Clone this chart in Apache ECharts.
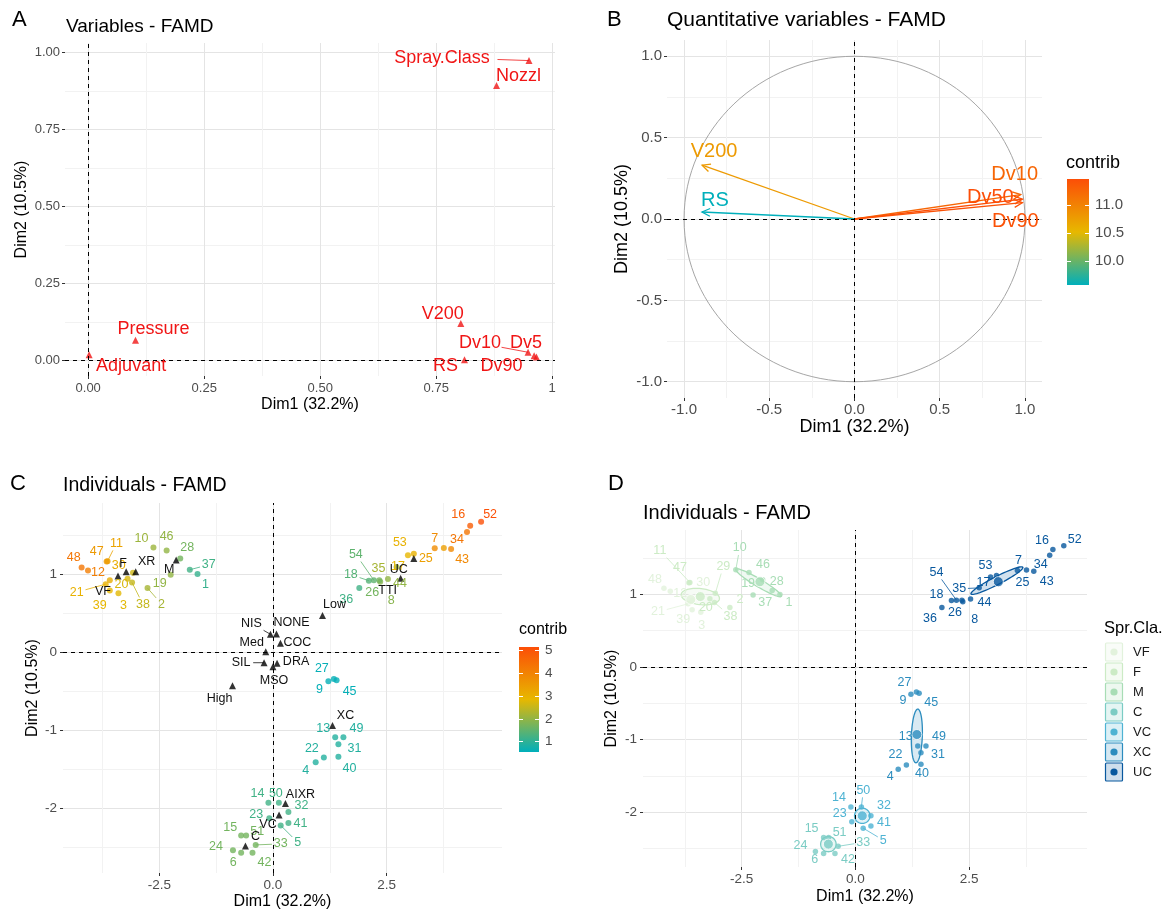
<!DOCTYPE html>
<html>
<head>
<meta charset="utf-8">
<script src="https://cdn.jsdelivr.net/npm/echarts@6/dist/echarts.min.js"></script>
<style>
  html, body { margin: 0; background: #fff; }
  #chart { width: 1167px; height: 912px; }
</style>
</head>
<body>
<div id="chart"></div>
<script>
const FONT = '"Liberation Sans", Arial, Helvetica, sans-serif';
const GRAD = ['#00AFBB', '#E7B800', '#FC4E07'];

// ---------- A: variables ----------
const varNames = ['Spray.Class', 'Nozzl', 'V200', 'Pressure', 'Adjuvant', 'RS', 'Dv10', 'Dv5', 'Dv90'];
const varDim1 = [0.950, 0.880, 0.803, 0.102, 0.002, 0.811, 0.948, 0.961, 0.966];
const varDim2 = [0.973, 0.892, 0.120, 0.066, 0.019, 0.003, 0.027, 0.016, 0.012];

// ---------- B: quantitative variables ----------
const quantNames = ['V200', 'RS', 'Dv10', 'Dv50', 'Dv90'];
const quantDim1 = [-0.894, -0.895, 0.975, 0.985, 0.985];
const quantDim2 = [0.331, 0.043, 0.150, 0.122, 0.100];
const quantContrib = [10.78, 9.57, 11.25, 11.46, 11.42];
const circleRadius = [1];

// ---------- C / D: individuals ----------
const indIds = [1, 2, 3, 4, 5, 6, 7, 8, 9, 10, 11, 12, 13, 14, 15, 16, 17, 18, 19, 20, 21, 22, 23, 24, 25, 26, 27,
  28, 29, 30, 31, 32, 33, 34, 35, 36, 37, 38, 39, 40, 41, 42, 43, 44, 45, 46, 47, 48, 49, 50, 51, 52, 53, 54];
const indDim1 = [-1.66, -2.76, -3.40, 0.94, 0.17, -0.70, 3.56, 2.36, 1.22, -2.63, -3.64, -4.07, 1.37, -0.10, -0.70,
  4.34, 2.97, 2.11, -2.25, -3.20, -3.68, 1.12, -0.08, -0.88, 3.76, 2.34, 1.34, -2.04, -3.08, -3.59, 1.44, 0.34,
  -0.38, 4.27, 2.72, 1.90, -1.83, -3.10, -3.59, 1.44, 0.34, -0.45, 3.92, 2.53, 1.40, -2.34, -3.66, -4.21, 1.55,
  0.13, -0.59, 4.58, 3.10, 2.22];
const indDim2 = [1.00, 0.82, 0.755, -1.41, -2.22, -2.57, 1.33, 0.90, -0.375, 1.34, 1.165, 1.045, -1.09, -1.93, -2.35,
  1.62, 1.24, 0.915, 0.99, 0.94, 0.87, -1.35, -2.13, -2.54, 1.335, 0.92, -0.345, 1.20, 1.015, 0.92, -1.18, -2.05,
  -2.47, 1.54, 1.09, 0.82, 1.055, 0.89, 0.79, -1.34, -2.19, -2.57, 1.32, 0.935, -0.36, 1.30, 1.16, 1.085, -1.09,
  -1.93, -2.35, 1.67, 1.26, 0.92];
const indContrib = [1.1, 2.2, 2.8, 0.9, 1.2, 1.7, 3.8, 1.9, 0.6, 2.1, 3.3, 4.1, 0.9, 1.2, 1.7, 4.8, 2.9, 1.4, 2.0,
  2.7, 3.0, 0.9, 1.2, 1.7, 3.4, 1.7, 0.6, 1.7, 2.6, 3.1, 0.9, 1.2, 1.7, 4.3, 2.2, 1.2, 1.2, 2.5, 2.9, 0.9, 1.2,
  1.7, 3.9, 2.0, 0.6, 2.0, 3.5, 4.3, 0.9, 1.2, 1.7, 5.1, 3.0, 1.5];
const indGroup = ['M', 'F', 'VF', 'XC', 'VC', 'C', 'UC', 'UC', 'XC', 'M', 'F', 'VF', 'XC', 'VC', 'C', 'UC', 'UC', 'UC',
  'M', 'F', 'VF', 'XC', 'VC', 'C', 'UC', 'UC', 'XC', 'M', 'F', 'VF', 'XC', 'VC', 'C', 'UC', 'UC', 'UC', 'M', 'F', 'VF',
  'XC', 'VC', 'C', 'UC', 'UC', 'XC', 'M', 'F', 'VF', 'XC', 'VC', 'C', 'UC', 'UC', 'UC'];

// qualitative categories shown in C
const catNames = ['VF', 'F', 'XR', 'M', 'UC', 'TTI', 'Low', 'NIS', 'NONE', 'COC', 'Med', 'SIL', 'DRA', 'MSO', 'High',
  'XC', 'AIXR', 'VC', 'C'];
const catDim1 = [-3.41, -3.23, -3.02, -2.13, 3.10, 2.81, 1.09, -0.055, 0.077, 0.165, -0.158, -0.196, 0.09, 0.0, -0.89,
  1.31, 0.275, 0.134, -0.605];
const catDim2 = [0.975, 1.03, 1.03, 1.18, 1.20, 0.945, 0.47, 0.228, 0.232, 0.113, 0.005, -0.136, -0.143, -0.187, -0.43,
  -0.94, -1.94, -2.087, -2.484];

// D: groups, group means and concentration ellipses
const groups = ['VF', 'F', 'M', 'C', 'VC', 'XC', 'UC'];
const groupMeanDim1 = [-3.62, -3.41, -2.10, -0.595, 0.15, 1.35, 3.14];
const groupMeanDim2 = [0.93, 0.97, 1.175, -2.44, -2.05, -0.93, 1.175];
const ellGroup = ['F', 'M', 'C', 'VC', 'XC', 'UC'];
const ellCx = [-3.41, -2.13, -0.595, 0.15, 1.35, 3.11];
const ellCy = [0.97, 1.16, -2.44, -2.05, -0.95, 1.19];
const ellUx = [0.42, 0.50, 0.17, 0.17, 0.02, 0.57];
const ellUy = [-0.03, -0.185, 0, 0, 0.37, 0.184];
const ellVx = [0.02, -0.025, 0, 0, 0.12, 0.04];
const ellVy = [0.11, -0.053, 0.105, 0.105, 0, -0.049];

// colour bar limits
const contribRangeB = [9.57, 11.46];
const contribRangeC = [0.55, 5.15];

// ticks
const ticksA = [0, 0.25, 0.5, 0.75, 1];
const minorA = [0.125, 0.375, 0.625, 0.875];
const ticksB = [-1, -0.5, 0, 0.5, 1];
const minorB = [-0.75, -0.25, 0.25, 0.75];
const ticksIndX = [-2.5, 0, 2.5];
const minorIndX = [-3.75, -1.25, 1.25, 3.75];
const ticksIndY = [-2, -1, 0, 1];
const minorIndY = [-2.5, -1.5, -0.5, 0.5, 1.5];
const ticksBarB = [10, 10.5, 11];
const ticksBarC = [1, 2, 3, 4, 5];

// ---------- label placement (pixel nudges, [dx, dy, leaderLine]) ----------
const nudgeA = {
  'Spray.Class': [-87, -3, 1], 'Nozzl': [22, -10], 'V200': [-18, -10], 'Pressure': [18, -11],
  'Adjuvant': [42, 11], 'RS': [-19, 6], 'Dv10': [-48, -9, 1], 'Dv5': [-8, -13], 'Dv90': [-35, 9]
};
const nudgeB = { 'V200': [12, -14], 'RS': [13, -12], 'Dv10': [-6, -20], 'Dv50': [-32, -2], 'Dv90': [-7, 19] };
const nudgeC = {
  1: [8, 11], 2: [14, 16, 1], 3: [5, 12], 4: [-10, 8], 5: [17, 17, 1], 6: [-8, 10], 7: [0, -10], 8: [11, 19],
  9: [-9, 8], 10: [-12, -9], 11: [9, -18, 1], 12: [10, 2], 13: [-12, -9], 14: [-11, -9], 15: [-11, -8],
  16: [-12, -11], 17: [-10, 11], 18: [-18, -6, 1], 19: [-11, 9], 20: [-6, 6], 21: [-29, 8, 1], 22: [-12, -9],
  23: [-13, -4], 24: [-17, -4], 25: [-18, 11], 26: [-7, 12], 27: [-12, -10], 28: [7, -11], 30: [9, -15],
  31: [16, 4], 32: [13, -7], 33: [25, -1, 1], 34: [-10, 8], 35: [-18, 2], 36: [-13, 11], 37: [19, -5, 1],
  38: [11, 22, 1], 39: [-10, 15], 40: [11, 12], 41: [12, 1], 42: [12, 10], 43: [11, 10], 44: [12, 4],
  45: [13, 11], 46: [0, -14], 47: [-10, -10], 48: [-8, -10], 49: [13, -9], 50: [-3, -9], 51: [11, -4],
  52: [9, -7], 53: [-14, -11], 54: [-18, -26, 1]
};
const nudgeCat = {
  'VF': [-15, 16], 'F': [-3, -8], 'XR': [11, -10], 'M': [-7, 10], 'UC': [-15, 11], 'TTI': [-13, 12],
  'Low': [12, -11], 'NIS': [-19, -11, 1], 'NONE': [15, -11], 'COC': [17, -1], 'Med': [-14, -9],
  'SIL': [-23, 0, 1], 'DRA': [19, -2], 'MSO': [1, 14], 'High': [-13, 13], 'XC': [13, -10],
  'AIXR': [15, -9], 'VC': [-11, 10], 'C': [10, -9]
};
const nudgeD = {
  1: [9, 8], 2: [10, -8], 3: [1, 13], 4: [-8, 7], 5: [20, 12, 1], 6: [-9, 6], 7: [1, -10], 8: [12, 18],
  9: [-8, 6], 10: [4, -22, 1], 11: [-30, -32, 1], 12: [10, 2], 13: [-12, -10], 14: [-12, -10], 15: [-12, -9],
  16: [-11, -9], 17: [-7, 6], 18: [-15, -6], 19: [-5, -12], 20: [-4, 9], 21: [-30, 8, 1], 22: [-11, -10],
  23: [-12, -8], 24: [-15, -6], 25: [-4, 12], 26: [-7, 12], 27: [-12, -9], 28: [14, 2], 29: [8, -27, 1],
  30: [11, -18], 31: [17, 2], 32: [13, -10], 33: [25, -4, 1], 34: [-9, 9], 35: [-20, 1, 1], 36: [-12, 11],
  37: [-7, 12], 38: [16, 14, 1], 39: [-9, 10], 40: [1, 9], 41: [13, -3], 42: [13, 6], 43: [13, 10],
  44: [14, 3], 45: [12, 9], 46: [14, -8], 47: [-9, -15], 48: [-9, -9], 49: [13, -10], 50: [2, -17, 1],
  51: [11, -5], 52: [11, -6], 53: [-11, -10], 54: [-20, -28, 1]
};

const groupColor = { VF: '#e2f2dc', F: '#ccebc5', M: '#a8ddb5', C: '#7bccc4', VC: '#4eb3d3', XC: '#2b8cbe', UC: '#08589e' };

function rgba(hex, a) {
  const n = parseInt(hex.slice(1), 16);
  return `rgba(${n >> 16},${(n >> 8) & 255},${n & 255},${a})`;
}

// ---------- axes ----------
function axisPair(gridIndex, dim, range, major, minor, fmt, o) {
  const common = { gridIndex, type: 'value', min: range[0], max: range[1] };
  const main = Object.assign({}, common, {
    position: dim === 'x' ? 'bottom' : 'left',
    name: o.name, nameLocation: 'middle', nameGap: o.nameGap,
    nameRotate: dim === 'y' ? 90 : 0,
    nameTextStyle: { color: '#000', fontSize: o.nameSize, fontFamily: FONT },
    axisLine: { show: false, onZero: false },
    axisTick: { show: true, length: 3, lineStyle: { color: '#333', width: 1 }, customValues: major },
    axisLabel: { customValues: major, formatter: fmt, color: '#4d4d4d', fontSize: o.labelSize, fontFamily: FONT, margin: o.margin },
    splitLine: { show: true, lineStyle: { color: '#e4e4e4', width: 1 } }
  });
  const sub = Object.assign({}, common, {
    position: dim === 'x' ? 'top' : 'right',
    axisLine: { show: false, onZero: false },
    axisTick: { show: false, customValues: minor },
    axisLabel: { show: false, customValues: minor },
    splitLine: { show: true, lineStyle: { color: '#f2f2f2', width: 1 } }
  });
  return [main, sub];
}

const fmtA = v => (v === 1 ? '1' : v.toFixed(2));
const fmt1 = v => v.toFixed(1);
const fmtInt = v => String(v);

const xA = axisPair(0, 'x', [-0.05, 1.006], ticksA, minorA, fmtA, { name: 'Dim1 (32.2%)', nameGap: 21, nameSize: 16, labelSize: 13, margin: 6 });
const yA = axisPair(0, 'y', [-0.05, 1.03], ticksA, minorA, v => v.toFixed(2), { name: 'Dim2 (10.5%)', nameGap: 35, nameSize: 16, labelSize: 13, margin: 5 });
const xB = axisPair(1, 'x', [-1.1, 1.1], ticksB, minorB, fmt1, { name: 'Dim1 (32.2%)', nameGap: 19, nameSize: 18, labelSize: 15, margin: 4 });
const yB = axisPair(1, 'y', [-1.1, 1.1], ticksB, minorB, fmt1, { name: 'Dim2 (10.5%)', nameGap: 36, nameSize: 18, labelSize: 15, margin: 5 });
const xC = axisPair(2, 'x', [-4.62, 5.04], ticksIndX, minorIndX, fmt1, { name: 'Dim1 (32.2%)', nameGap: 21, nameSize: 16, labelSize: 13.5, margin: 5 });
const yC = axisPair(2, 'y', [-2.83, 1.91], ticksIndY, minorIndY, fmtInt, { name: 'Dim2 (10.5%)', nameGap: 22, nameSize: 16, labelSize: 13.5, margin: 6 });
const xD = axisPair(3, 'x', [-4.67, 5.09], ticksIndX, minorIndX, fmt1, { name: 'Dim1 (32.2%)', nameGap: 22, nameSize: 16, labelSize: 13.5, margin: 5 });
const yD = axisPair(3, 'y', [-2.755, 1.887], ticksIndY, minorIndY, fmtInt, { name: 'Dim2 (10.5%)', nameGap: 23, nameSize: 16, labelSize: 13.5, margin: 6 });

function barAxes(gridIndex, lim, ticks, fmt, size) {
  const tick = { show: true, inside: true, length: 4, lineStyle: { color: '#fff', width: 1 }, customValues: ticks };
  return [
    { gridIndex, type: 'value', min: lim[0], max: lim[1], position: 'right', z: 10,
      axisLine: { show: false, onZero: false }, splitLine: { show: false }, axisTick: tick,
      axisLabel: { customValues: ticks, formatter: fmt, color: '#4d4d4d', fontSize: size, fontFamily: FONT, margin: 6 } },
    { gridIndex, type: 'value', min: lim[0], max: lim[1], position: 'left', z: 10,
      axisLine: { show: false, onZero: false }, splitLine: { show: false }, axisTick: tick, axisLabel: { show: false, customValues: ticks } }
  ];
}
const hiddenX = gi => ({ gridIndex: gi, type: 'value', min: 0, max: 1, show: false });

const xAxis = [...xA, ...xB, ...xC, ...xD, hiddenX(4), hiddenX(5), hiddenX(6)];
const yAxis = [...yA, ...yB, ...yC, ...yD,
  ...barAxes(4, contribRangeB, ticksBarB, fmt1, 15),
  ...barAxes(5, contribRangeC, ticksBarC, fmtInt, 13.5),
  { gridIndex: 6, type: 'category', data: groups, inverse: true, position: 'right',
    axisLine: { show: false }, axisTick: { show: false }, splitLine: { show: false },
    axisLabel: { color: '#1a1a1a', fontSize: 13, fontFamily: FONT, margin: 10 } }
];

const grid = [
  { left: 65, top: 43, width: 490, height: 333 },
  { left: 667, top: 40, width: 375, height: 358 },
  { left: 63, top: 503, width: 439, height: 370 },
  { left: 643, top: 530, width: 444, height: 337 },
  { left: 1067, top: 179, width: 22, height: 106 },
  { left: 519, top: 647, width: 20, height: 105 },
  { left: 1105, top: 642, width: 18, height: 140 }
];

// ---------- series helpers ----------
const series = [];
function add(s) { series.push(s); return series.length - 1; }

const zeroLines = {
  silent: true, symbol: ['none', 'none'], label: { show: false }, animation: false,
  lineStyle: { color: '#000', type: [4, 4], width: 1 },
  data: [{ xAxis: 0 }, { yAxis: 0 }]
};

function labelSeries(xi, yi, xs, ys, names, nudge, fontSize, color, vals, z) {
  const data = xs.map((x, i) => (vals ? [x, ys[i], vals[i]] : [x, ys[i]]));
  return {
    type: 'custom', xAxisIndex: xi, yAxisIndex: yi, silent: true, z: z || 6, data,
    renderItem(params, api) {
      const i = params.dataIndex;
      const nd = nudge[names[i]];
      if (!nd) return null;
      const p = api.coord([api.value(0), api.value(1)]);
      const c = color === 'visual' ? api.visual('color') : (typeof color === 'function' ? color(i) : color);
      const text = String(names[i]);
      const tx = p[0] + nd[0], ty = p[1] + nd[1];
      const kids = [];
      if (nd[2]) {
        const hw = text.length * fontSize * 0.27 + 2, hh = fontSize * 0.5 + 1;
        const t = Math.min(hw / Math.max(Math.abs(nd[0]), 1e-6), hh / Math.max(Math.abs(nd[1]), 1e-6));
        if (t < 1) {
          kids.push({ type: 'line', shape: { x1: p[0], y1: p[1], x2: tx - nd[0] * t, y2: ty - nd[1] * t },
            style: { stroke: c, lineWidth: 0.8 } });
        }
      }
      kids.push({ type: 'text', x: tx, y: ty,
        style: { text, fill: c, font: `${fontSize}px ${FONT}`, align: 'center', verticalAlign: 'middle' } });
      return { type: 'group', children: kids };
    }
  };
}

// ---------- A ----------
add({
  type: 'scatter', xAxisIndex: 0, yAxisIndex: 0, symbol: 'triangle', symbolSize: 7,
  itemStyle: { color: '#f01515' }, data: varDim1.map((x, i) => [x, varDim2[i]]), markLine: zeroLines, z: 4
});
add(labelSeries(0, 0, varDim1, varDim2, varNames, nudgeA, 18, '#f01515'));

// ---------- B ----------
add({
  type: 'custom', xAxisIndex: 2, yAxisIndex: 2, silent: true, z: 3, data: circleRadius.map(r => [0, 0, r]),
  markLine: zeroLines,
  renderItem(params, api) {
    const c = api.coord([api.value(0), api.value(1)]);
    const r = api.value(2);
    const ex = api.coord([r, 0]), ey = api.coord([0, r]);
    return { type: 'ellipse', shape: { cx: c[0], cy: c[1], rx: ex[0] - c[0], ry: c[1] - ey[1] },
      style: { fill: 'none', stroke: '#a6a6a6', lineWidth: 1 } };
  }
});
const sBArrows = add({
  type: 'custom', xAxisIndex: 2, yAxisIndex: 2, silent: true, z: 4,
  data: quantDim1.map((x, i) => [x, quantDim2[i], quantContrib[i]]),
  renderItem(params, api) {
    const o = api.coord([0, 0]);
    const p = api.coord([api.value(0), api.value(1)]);
    const col = api.visual('color');
    const ang = Math.atan2(p[1] - o[1], p[0] - o[0]);
    const L = 9, a = Math.PI / 7;
    const h1 = [p[0] - L * Math.cos(ang - a), p[1] - L * Math.sin(ang - a)];
    const h2 = [p[0] - L * Math.cos(ang + a), p[1] - L * Math.sin(ang + a)];
    const st = { stroke: col, lineWidth: 1.3, fill: 'none' };
    return { type: 'group', children: [
      { type: 'line', shape: { x1: o[0], y1: o[1], x2: p[0], y2: p[1] }, style: st },
      { type: 'polyline', shape: { points: [h1, p, h2] }, style: st }
    ] };
  }
});
const sBLabels = add(labelSeries(2, 2, quantDim1, quantDim2, quantNames, nudgeB, 20, 'visual', quantContrib));

// ---------- C ----------
const sCPts = add({
  type: 'scatter', xAxisIndex: 4, yAxisIndex: 4, symbolSize: 6, z: 3,
  data: indDim1.map((x, i) => [x, indDim2[i], indContrib[i]]), markLine: zeroLines
});
const sCLabels = add(labelSeries(4, 4, indDim1, indDim2, indIds, nudgeC, 12.5, 'visual', indContrib));
add({
  type: 'scatter', xAxisIndex: 4, yAxisIndex: 4, symbol: 'triangle', symbolSize: 7, z: 5,
  itemStyle: { color: '#000' }, data: catDim1.map((x, i) => [x, catDim2[i]])
});
add(labelSeries(4, 4, catDim1, catDim2, catNames, nudgeCat, 12.5, '#111', null, 7));

// ---------- D ----------
add({
  type: 'custom', xAxisIndex: 6, yAxisIndex: 6, silent: true, z: 2,
  data: ellCx.map((c, i) => [c, ellCy[i], ellUx[i], ellUy[i], ellVx[i], ellVy[i]]),
  markLine: zeroLines,
  renderItem(params, api) {
    const col = groupColor[ellGroup[params.dataIndex]];
    const cx = api.value(0), cy = api.value(1), ux = api.value(2), uy = api.value(3), vx = api.value(4), vy = api.value(5);
    const pts = [];
    for (let k = 0; k < 72; k++) {
      const t = k / 72 * Math.PI * 2;
      pts.push(api.coord([cx + ux * Math.cos(t) + vx * Math.sin(t), cy + uy * Math.cos(t) + vy * Math.sin(t)]));
    }
    return { type: 'polygon', shape: { points: pts }, style: { fill: rgba(col, 0.18), stroke: col, lineWidth: 1.3 } };
  }
});
add({
  type: 'scatter', xAxisIndex: 6, yAxisIndex: 6, symbolSize: 5.5, z: 3,
  itemStyle: { color: p => groupColor[indGroup[p.dataIndex]] },
  data: indDim1.map((x, i) => [x, indDim2[i]])
});
add({
  type: 'scatter', xAxisIndex: 6, yAxisIndex: 6, symbolSize: 10, z: 4,
  itemStyle: { color: p => groupColor[groups[p.dataIndex]], borderColor: '#fff', borderWidth: 1 },
  data: groupMeanDim1.map((x, i) => [x, groupMeanDim2[i]])
});
add(labelSeries(6, 6, indDim1, indDim2, indIds, nudgeD, 12.5, i => groupColor[indGroup[i]]));

// ---------- colour bars and legend ----------
function colorbar(xi, yi, lim) {
  return {
    type: 'custom', xAxisIndex: xi, yAxisIndex: yi, silent: true, z: 1, data: [[0, lim[0], 1, lim[1]]],
    renderItem(params, api) {
      const a = api.coord([api.value(0), api.value(3)]);
      const b = api.coord([api.value(2), api.value(1)]);
      return { type: 'rect', shape: { x: a[0], y: a[1], width: b[0] - a[0], height: b[1] - a[1] },
        style: { fill: new echarts.graphic.LinearGradient(0, 0, 0, 1, [
          { offset: 0, color: GRAD[2] }, { offset: 0.5, color: GRAD[1] }, { offset: 1, color: GRAD[0] }]) } };
    }
  };
}
add(colorbar(8, 8, contribRangeB));
add(colorbar(9, 10, contribRangeC));
add({
  type: 'custom', xAxisIndex: 10, yAxisIndex: 12, silent: true,
  data: groups.map((g, i) => [0.5, i]),
  renderItem(params, api) {
    const p = api.coord([api.value(0), api.value(1)]);
    const col = groupColor[groups[params.dataIndex]];
    return { type: 'group', children: [
      { type: 'rect', shape: { x: p[0] - 8.5, y: p[1] - 9, width: 17, height: 18, r: 1 },
        style: { fill: rgba(col, 0.2), stroke: col, lineWidth: 1.2 } },
      { type: 'circle', shape: { cx: p[0], cy: p[1], r: 3.6 }, style: { fill: col } }
    ] };
  }
});

const txt = (x, y, text, size, extra) => ({
  type: 'text', x, y, silent: true,
  style: Object.assign({ text, fill: '#000', font: `${size}px ${FONT}`, verticalAlign: 'middle', align: 'left' }, extra || {})
});

const chart = echarts.init(document.getElementById('chart'));
chart.setOption({
  animation: false,
  backgroundColor: '#fff',
  grid, xAxis, yAxis, series,
  visualMap: [
    { type: 'continuous', show: false, seriesIndex: [sBArrows, sBLabels], dimension: 2,
      min: contribRangeB[0], max: contribRangeB[1], inRange: { color: GRAD } },
    { type: 'continuous', show: false, seriesIndex: [sCPts, sCLabels], dimension: 2,
      min: contribRangeC[0], max: contribRangeC[1], inRange: { color: GRAD } }
  ],
  graphic: [
    txt(12, 20, 'A', 22), txt(66, 27, 'Variables - FAMD', 19),
    txt(607, 20, 'B', 22), txt(667, 20, 'Quantitative variables - FAMD', 21),
    txt(1066, 163, 'contrib', 18),
    txt(10, 484, 'C', 22), txt(63, 486, 'Individuals - FAMD', 19.5),
    txt(519, 630, 'contrib', 16),
    txt(608, 484, 'D', 22), txt(643, 513, 'Individuals - FAMD', 20),
    txt(1104, 628, 'Spr.Cla.', 16.5)
  ]
});
</script>
</body>
</html>
